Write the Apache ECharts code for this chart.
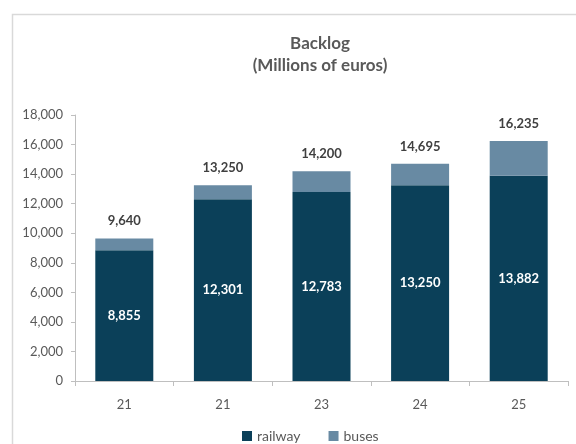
<!DOCTYPE html>
<html><head><meta charset="utf-8">
<script src="https://cdn.jsdelivr.net/npm/echarts@6/dist/echarts.min.js"></script>
<style>html,body{margin:0;padding:0;background:#fff}#c{width:576px;height:444px}</style>
</head><body><div id="c"></div>
<script>
const categories = ['21', '21', '23', '24', '25'];
const railway = [8855, 12301, 12783, 13250, 13882];
const buses = [785, 949, 1417, 1445, 2353];
const totals = [9640, 13250, 14200, 14695, 16235];
const yTicks = { min: 0, max: 18000, interval: 2000 };

const fmt = v => Number(v).toLocaleString('en-US');
const FONT = 'Lato, "Open Sans", sans-serif';
const chart = echarts.init(document.getElementById('c'), null, { renderer: 'canvas' });
chart.setOption({
  animation: false,
  backgroundColor: '#fff',
  graphic: [{
    type: 'rect', left: 10, top: 12, shape: { x: 0, y: 0, width: 600, height: 460 },
    style: { fill: 'none', stroke: '#d9d9d9', lineWidth: 1.5 }, silent: true, z: -1
  }],
  title: {
    text: 'Backlog\n(Millions of euros)',
    left: 315, textAlign: 'center', top: 28,
    textStyle: { fontFamily: FONT, fontSize: 17, fontWeight: 'bold', color: '#595959', lineHeight: 22 }
  },
  legend: {
    bottom: 1, left: 242, padding: 0,
    itemWidth: 10, itemHeight: 10, itemGap: 28,
    icon: 'rect',
    textStyle: { fontFamily: FONT, fontSize: 14, color: '#595959' },
    data: ['railway', 'buses']
  },
  grid: { left: 75, right: 8, top: 115, bottom: 63, containLabel: false },
  xAxis: {
    type: 'category', data: categories,
    axisLine: { lineStyle: { color: '#bfbfbf', width: 1 } },
    axisTick: { show: true, length: 5, lineStyle: { color: '#bfbfbf' } },
    axisLabel: { fontFamily: FONT, fontSize: 13, color: '#595959', margin: 17 }
  },
  yAxis: {
    type: 'value', min: yTicks.min, max: yTicks.max, interval: yTicks.interval,
    axisLine: { show: true, lineStyle: { color: '#bfbfbf', width: 1 } },
    axisTick: { show: true, length: 4, lineStyle: { color: '#bfbfbf' } },
    splitLine: { show: false },
    axisLabel: { fontFamily: FONT, fontSize: 13, color: '#595959', margin: 12, formatter: v => fmt(v) }
  },
  series: [
    {
      name: 'railway', type: 'bar', stack: 'a', data: railway, barWidth: 58,
      itemStyle: { color: '#0b4059' },
      label: { show: true, position: 'inside', fontFamily: FONT, fontSize: 13, fontWeight: 'bold', color: '#fff', formatter: p => fmt(p.value) }
    },
    {
      name: 'buses', type: 'bar', stack: 'a', data: buses, barWidth: 58,
      itemStyle: { color: '#688aa3' },
      label: { show: true, position: 'top', distance: 11, fontFamily: FONT, fontSize: 13, fontWeight: 'bold', color: '#404040', formatter: p => fmt(totals[p.dataIndex]) }
    }
  ]
});
</script></body></html>
